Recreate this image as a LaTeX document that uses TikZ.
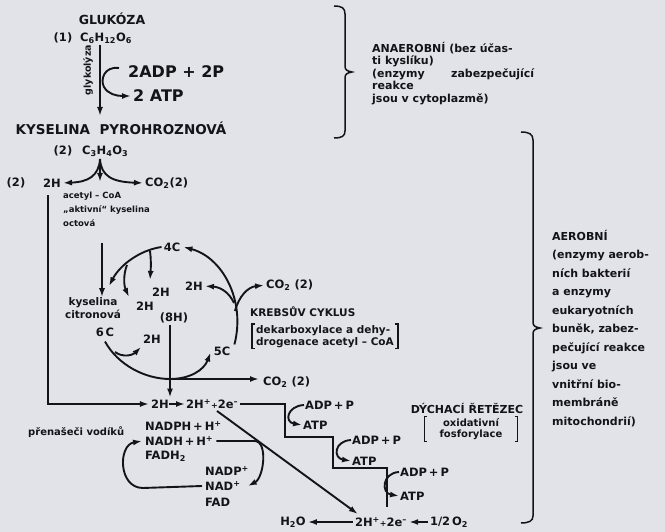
\documentclass[tikz,border=0pt]{standalone}
\usepackage{fontspec}
\setmainfont{DejaVu Sans}
\usetikzlibrary{arrows.meta, positioning}
\definecolor{paper}{RGB}{226,226,233}
\definecolor{ink}{RGB}{20,20,24}
\newcommand{\chsub}[1]{\textsubscript{#1}}
\newcommand{\chsup}[1]{\textsuperscript{#1}}

\begin{document}
\begin{tikzpicture}[
    x=1pt, y=-1pt,
    every node/.style={inner sep=0pt, text=ink},
    caps/.style={font=\bfseries\fontsize{12.5}{14}\selectfont},
    chem/.style={font=\bfseries\fontsize{11.5}{13}\selectfont},
    big/.style={font=\bfseries\fontsize{16}{18}\selectfont},
    note/.style={align=left, font=\bfseries\fontsize{8.5}{14}\selectfont},
    side/.style={align=left, anchor=north west, font=\bfseries\fontsize{11}{12.5}\selectfont},
    arrow/.style={draw=ink, line width=1.9pt, -{Latex[length=9pt, width=6pt]}},
    line/.style={draw=ink, line width=1.9pt},
    brace/.style={draw=ink, line width=1.5pt},
    brk/.style={draw=ink, line width=1.2pt}
]
\fill[paper] (0,0) rectangle (665,532);
\useasboundingbox (0,0) rectangle (665,532);

% glykolyza
\node[caps] (glukoza) at (112,19) {GLUKÓZA};
\node[chem] (n1) at (63,38) {(1)};
\node[chem, anchor=west] (glc) at (80,38) {C\chsub{6}H\chsub{12}O\chsub{6}};
\coordinate (gly0) at (100,45);
\coordinate (gly1) at (100,116);
\draw[arrow] (gly0) -- (gly1);
\node[note, rotate=90, font=\bfseries\fontsize{9.5}{11}\selectfont] (glykolyza) at (88,70) {glykolýza};
\node[big, anchor=west] (adp) at (128,72) {2ADP + 2P};
\node[big, anchor=west] (atp) at (133,96) {2 ATP};
\draw[arrow] ([xshift=-9pt, yshift=4pt]adp.west) .. controls (104,66) and (100,80) .. (104,87)
    .. controls (108,94) and (116,96) .. ([xshift=-2pt]atp.west);

\node[caps, font=\bfseries\fontsize{13.5}{15}\selectfont] (pyro) at (121,128) {KYSELINA\ \ PYROHROZNOVÁ};
\node[chem] (n2) at (63,151) {(2)};
\node[chem, anchor=west] (pyr) at (82,151) {C\chsub{3}H\chsub{4}O\chsub{3}};
\coordinate (split) at (100,159);
\coordinate (acet) at (100,182);
\node[chem] (n3) at (16,183) {(2)};
\node[chem] (h2a) at (52,183) {2H};
\node[chem, anchor=west] (co2a) at (145,183) {CO\chsub{2}(2)};
\draw[arrow, shorten >=2pt] (split) .. controls (99,176) and (88,182) .. (h2a.east);
\draw[arrow, shorten >=2pt] (split) .. controls (101,176) and (112,182) .. (co2a.west);
\draw[arrow] (split) -- (acet);
\node[note, anchor=north west] (acoa) at (63,192) {acetyl – CoA\\„aktivní“ kyselina\\octová};

% Krebsuv cyklus
\coordinate (ac) at (102,243);
\node[note, align=center, font=\bfseries\fontsize{10.5}{13}\selectfont] (cit) at (93,308) {kyselina\\citronová};
\draw[arrow] (ac) -- (ac |- cit.north);
\node[chem] (c6) at (105,332) {6\,C};
\node[chem] (c4) at (172,247) {4C};
\node[chem] (c5) at (222,351) {5C};
\node[chem] (h2k1) at (161,292) {2H};
\node[chem] (h2k2) at (145,306) {2H};
\node[chem] (h2k3) at (152,339) {2H};
\node[chem] (h2k4) at (194,286) {2H};
\node[chem] (h8) at (174,318) {(8H)};
\node[chem, anchor=west] (co2b) at (266,285) {CO\chsub{2} (2)};
\node[caps, anchor=west, font=\bfseries\fontsize{10.5}{12}\selectfont] (krebs) at (250,312) {KREBSŮV CYKLUS};
\node[note, anchor=north west, inner xsep=4pt, inner ysep=1pt, font=\bfseries\fontsize{10.5}{12}\selectfont] (dek) at (252,324) {dekarboxylace a dehy-\\drogenace acetyl – CoA};
\draw[brk] ([xshift=3pt]dek.north west) -- (dek.north west) -- (dek.south west) -- ([xshift=3pt]dek.south west);
\draw[brk] ([xshift=-3pt]dek.north east) -- (dek.north east) -- (dek.south east) -- ([xshift=-3pt]dek.south east);

\draw[arrow] ([xshift=-2pt]c4.west) .. controls (140,250) and (120,265) .. (109,286);
\draw[arrow] (150,251) .. controls (151,258) and (151,266) .. (150,280);
\draw[arrow] (127,265) .. controls (123,275) and (124,286) .. (129,297);
\draw[line] ([yshift=-5pt]c6.south) .. controls (118,365) and (145,379) .. (170,379);
\draw[arrow] (170,379) .. controls (190,379) and (204,370) .. ([xshift=-3pt, yshift=3pt]c5.south west);
\draw[arrow] (115,352) .. controls (123,358) and (133,355) .. (141,347);
\draw[arrow] ([xshift=4pt, yshift=2pt]c5.north east) .. controls (246,300) and (222,257) .. ([xshift=3pt]c4.east);
\draw[arrow, shorten >=2pt] (234,303) .. controls (229,292) and (220,287) .. (h2k4.east);
\draw[arrow, shorten >=2pt] (235,311) .. controls (239,296) and (248,287) .. (co2b.west);

% dychaci retezec
\node[chem] (h2b) at (160,404) {2H};
\node[chem, anchor=west] (hp) at (186,404) {2H\chsup{+}{\fontsize{8}{8}\selectfont+}2e\chsup{–}};
\draw[arrow, shorten >=1pt] (h2b) -- (hp);
\draw[arrow, shorten >=2pt] ([xshift=-4pt, yshift=-8pt]h2a.south) |- (h2b.west);
\draw[arrow, shorten >=2pt] ([xshift=-4pt, yshift=-2pt]h8.south) -- ([xshift=-4pt]h8.south |- h2b.north);
\coordinate (cbot) at (170,379);
\node[chem, anchor=west] (co2c) at (263,382) {CO\chsub{2} (2)};
\draw[arrow, shorten >=4pt] (cbot) -- (cbot -| co2c.west);

\draw[line] ([xshift=2pt]hp.east) -| (285,437) -| (333,468) -| (387,507);
\node[chem, anchor=west] (adp1) at (305,405) {ADP\,+\,P};
\node[chem, anchor=west] (atp1) at (303,425) {ATP};
\node[chem, anchor=west] (adp2) at (352,440) {ADP\,+\,P};
\node[chem, anchor=west] (atp2) at (352,461) {ATP};
\node[chem, anchor=west] (adp3) at (400,472) {ADP\,+\,P};
\node[chem, anchor=west] (atp3) at (400,496) {ATP};
\foreach \i in {1,2,3}
    \draw[arrow] ([xshift=-1pt]adp\i.west) .. controls +(-17,1) and +(-18,-3) .. ([xshift=-1pt]atp\i.west);
\node[caps, font=\bfseries\fontsize{11}{12}\selectfont] (dych) at (467,408) {DÝCHACÍ ŘETĚZEC};
\node[note, align=center, minimum width=93pt, inner ysep=2pt, font=\bfseries\fontsize{10}{11}\selectfont] (oxf) at (471,429) {oxidativní\\fosforylace};
\draw[brk] ([xshift=3pt]oxf.north west) -- (oxf.north west) -- (oxf.south west) -- ([xshift=3pt]oxf.south west);
\draw[brk] ([xshift=-3pt]oxf.north east) -- (oxf.north east) -- (oxf.south east) -- ([xshift=-3pt]oxf.south east);

\node[chem] (h2o) at (293,522) {H\chsub{2}O};
\node[chem] (hp2) at (381,522) {2H\chsup{+}{\fontsize{8}{8}\selectfont+}2e\chsup{–}};
\node[chem] (o2) at (449,522) {1/2\,O\chsub{2}};
\draw[arrow, shorten >=2pt, shorten <=2pt] (hp2) -- (h2o);
\draw[arrow, shorten >=2pt, shorten <=2pt] (o2) -- (hp2);
\draw[arrow] ([xshift=31pt, yshift=-2pt]hp.south west) -- ([xshift=3pt, yshift=3pt]hp2.north west);

% prenasece vodiku
\node[note, anchor=west, font=\bfseries\fontsize{10}{11}\selectfont] (carr) at (28,432) {přenašeči vodíků};
\node[chem, anchor=west] (nadph) at (145,426) {NADPH\,+\,H\chsup{+}};
\node[chem, anchor=west] (nadh) at (145,441) {NADH\,+\,H\chsup{+}};
\node[chem, anchor=west] (fadh) at (145,456) {FADH\chsub{2}};
\node[chem, anchor=west] (nadp) at (205,471) {NADP\chsup{+}};
\node[chem, anchor=west] (nad) at (205,486) {NAD\chsup{+}};
\node[chem, anchor=west] (fad) at (205,502) {FAD};
\draw[arrow] ([xshift=3pt]nadh.east) -- ++(38,0) .. controls +(14,0) and +(16,-8) .. ([xshift=7pt]nad.east);
\draw[arrow] ([xshift=-3pt]nad.west) -- (143,488) .. controls (118,488) and (118,445) .. ([xshift=-3pt]nadh.west);

% zavorky
\draw[brace] (334,6) .. controls (342,6) and (345,8) .. (345,14) -- (345,66) .. controls (345,70) and (347,71) .. (352,72)
    .. controls (347,73) and (345,74) .. (345,78) -- (345,131) .. controls (345,136) and (342,138) .. (334,138);
\draw[brace] (521,132) .. controls (529,132) and (533,134) .. (533,140) -- (533,322) .. controls (533,326) and (535,327) .. (540,328)
    .. controls (535,329) and (533,330) .. (533,334) -- (533,516) .. controls (533,521) and (529,523) .. (521,523);
\node[side] (anaer) at (372,42) {ANAEROBNÍ (bez účas-\\ti kyslíku)\\(enzymy\hspace{2.4em}zabezpečující\\reakce\\jsou v cytoplazmě)};
\node[side, font=\bfseries\fontsize{11}{18.5}\selectfont] (aer) at (552,230) {AEROBNÍ\\(enzymy aerob-\\ních bakterií\\a enzymy\\eukaryotních\\buněk, zabez-\\pečující reakce\\jsou ve\\vnitřní bio-\\membráně\\mitochondrií)};
\end{tikzpicture}
\end{document}
